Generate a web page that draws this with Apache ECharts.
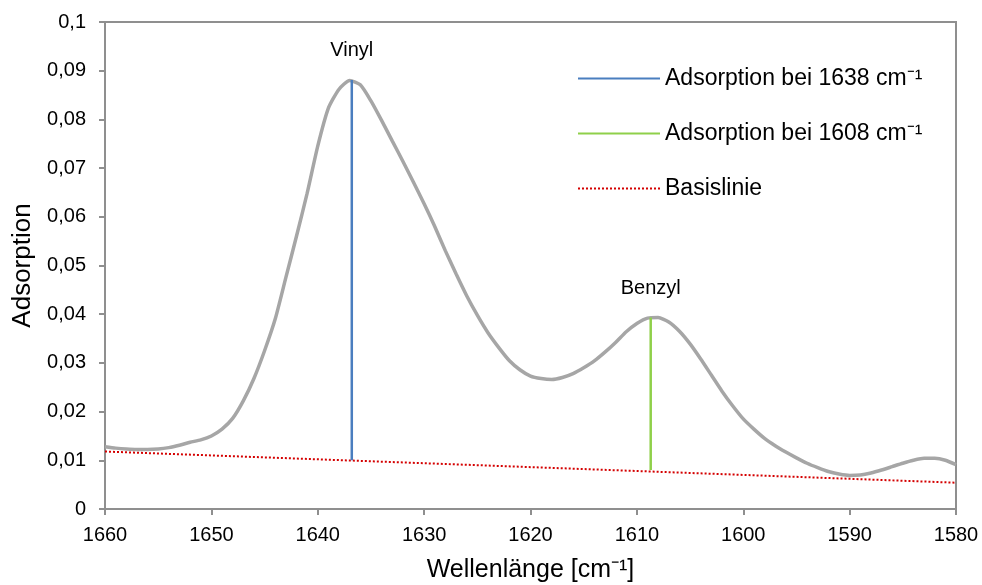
<!DOCTYPE html>
<html>
<head>
<meta charset="utf-8">
<script src="https://cdn.jsdelivr.net/npm/echarts@6/dist/echarts.min.js"></script>
<style>
  html, body { margin: 0; padding: 0; background: #fff; }
  #chart { width: 982px; height: 585px; }
</style>
</head>
<body>
<div id="chart"></div>
<script>
// Wellenzahl (cm-1) und gemessene Adsorption
const wavenumbers = [
  1660, 1659, 1658, 1657, 1656, 1655, 1654, 1653, 1652, 1651,
  1650, 1649, 1648, 1647, 1646, 1645, 1644, 1643, 1642, 1641,
  1640, 1639, 1638, 1637, 1636, 1635, 1634, 1633, 1632, 1631,
  1630, 1629, 1628, 1627, 1626, 1625, 1624, 1623, 1622, 1621,
  1620, 1619, 1618, 1617, 1616, 1615, 1614, 1613, 1612, 1611,
  1610, 1609, 1608, 1607, 1606, 1605, 1604, 1603, 1602, 1601,
  1600, 1599, 1598, 1597, 1596, 1595, 1594, 1593, 1592, 1591,
  1590, 1589, 1588, 1587, 1586, 1585, 1584, 1583, 1582, 1581,
  1580
]
const absorption = [
  0.0128, 0.0125, 0.0123, 0.0122, 0.0122, 0.0123, 0.0126, 0.0131, 0.0137, 0.0142,
  0.0150, 0.0164, 0.0186, 0.0222, 0.0268, 0.0325, 0.0390, 0.0475, 0.0560, 0.0648,
  0.0745, 0.0823, 0.0862, 0.0880, 0.0871, 0.0838, 0.0798, 0.0756, 0.0714, 0.0671,
  0.0627, 0.0580, 0.0530, 0.0483, 0.0438, 0.0398, 0.0362, 0.0332, 0.0305, 0.0286,
  0.0273, 0.0268, 0.0266, 0.0270, 0.0278, 0.0290, 0.0304, 0.0322, 0.0342, 0.0364,
  0.0381, 0.0392, 0.0393, 0.0384, 0.0365, 0.0339, 0.0308, 0.0275, 0.0242, 0.0212,
  0.0185, 0.0164, 0.0145, 0.0130, 0.0117, 0.0105, 0.0094, 0.0085, 0.0077, 0.0072,
  0.0069, 0.0070, 0.0074, 0.0080, 0.0087, 0.0094, 0.0100, 0.0104, 0.0104, 0.0100,
  0.0091
]
// Basislinie: Anfangs- und Endpunkt
const baselineX = [1660, 1580]
const baselineY = [0.0118, 0.0054]
// Peakhoehen (von Basislinie bis Maximum)
const vinylX = 1636.8
const vinylY = [0.0100, 0.0881]
const benzylX = 1608.7
const benzylY = [0.0080, 0.0393]
const peakNames = ['Vinyl', 'Benzyl']
const legendNames = ['Adsorption bei 1638 cm⁻¹', 'Adsorption bei 1608 cm⁻¹', 'Basislinie']
const xTicks = { min: 1580, max: 1660, interval: 10 }
const yTicks = { min: 0, max: 0.1, interval: 0.01 }

const FONT = 'Liberation Sans, Arial, sans-serif'
const AXIS_GRAY = '#8f8f8f'

const chart = echarts.init(document.getElementById('chart'))

const fmtComma = (v) => {
  const r = Math.round(v * 1000) / 1000
  return String(r).replace('.', ',')
}

const option = {
  animation: false,
  textStyle: { fontFamily: FONT, color: '#000' },
  grid: {
    left: 105,
    right: 26,
    top: 22,
    bottom: 76,
    outerBoundsMode: 'none',
    show: true,
    borderColor: AXIS_GRAY,
    borderWidth: 2
  },
  legend: {
    data: legendNames,
    orient: 'vertical',
    left: 572,
    top: 62,
    itemWidth: 82,
    itemHeight: 14,
    itemGap: 32,
    itemStyle: { opacity: 0 },
    textStyle: { fontFamily: FONT, fontSize: 23, color: '#000' },
    selectedMode: false
  },
  xAxis: {
    type: 'value',
    inverse: true,
    min: xTicks.min,
    max: xTicks.max,
    interval: xTicks.interval,
    name: 'Wellenlänge [cm⁻¹]',
    nameLocation: 'middle',
    nameGap: 49,
    nameTextStyle: { fontFamily: FONT, fontSize: 25, color: '#000' },
    axisLine: { show: true, lineStyle: { color: AXIS_GRAY, width: 2 } },
    axisTick: { show: true, length: 6, lineStyle: { color: AXIS_GRAY, width: 2 } },
    axisLabel: { fontFamily: FONT, fontSize: 20, color: '#000', margin: 16, formatter: (v) => String(v) },
    splitLine: { show: false }
  },
  yAxis: {
    type: 'value',
    min: yTicks.min,
    max: yTicks.max,
    interval: yTicks.interval,
    name: 'Adsorption',
    nameLocation: 'middle',
    nameGap: 66,
    nameTextStyle: { fontFamily: FONT, fontSize: 26, color: '#000' },
    axisLine: { show: true, lineStyle: { color: AXIS_GRAY, width: 2 } },
    axisTick: { show: true, length: 6, lineStyle: { color: AXIS_GRAY, width: 2 } },
    axisLabel: { fontFamily: FONT, fontSize: 20, color: '#000', margin: 19, formatter: fmtComma },
    splitLine: { show: false }
  },
  series: [
    {
      name: 'Spektrum',
      type: 'line',
      data: wavenumbers.map((w, i) => [w, absorption[i]]),
      symbol: 'none',
      smooth: 0.2,
      lineStyle: { color: '#a6a6a6', width: 3.5 },
      z: 2
    },
    {
      name: legendNames[2],
      type: 'line',
      data: baselineX.map((w, i) => [w, baselineY[i]]),
      symbol: 'none',
      lineStyle: { color: '#d40000', width: 2, type: [2, 2] },
      itemStyle: { color: '#d40000' },
      z: 3
    },
    {
      name: legendNames[0],
      type: 'line',
      data: vinylY.map((y) => [vinylX, y]),
      symbol: 'none',
      lineStyle: { color: '#4a7ebf', width: 2.5 },
      itemStyle: { color: '#4a7ebf' },
      z: 4
    },
    {
      name: legendNames[1],
      type: 'line',
      data: benzylY.map((y) => [benzylX, y]),
      symbol: 'none',
      lineStyle: { color: '#8fd04a', width: 2.5 },
      itemStyle: { color: '#8fd04a' },
      z: 4
    },
    {
      name: 'Peaks',
      type: 'scatter',
      symbolSize: 0,
      silent: true,
      itemStyle: { opacity: 1 },
      data: [
        { value: [vinylX, vinylY[1]], name: peakNames[0] },
        { value: [benzylX, benzylY[1]], name: peakNames[1] }
      ],
      label: {
        show: true,
        position: 'top',
        distance: 19,
        formatter: (p) => p.name,
        fontFamily: FONT,
        fontSize: 20,
        color: '#000',
        opacity: 1
      }
    }
  ]
}

chart.setOption(option)
</script>
</body>
</html>
